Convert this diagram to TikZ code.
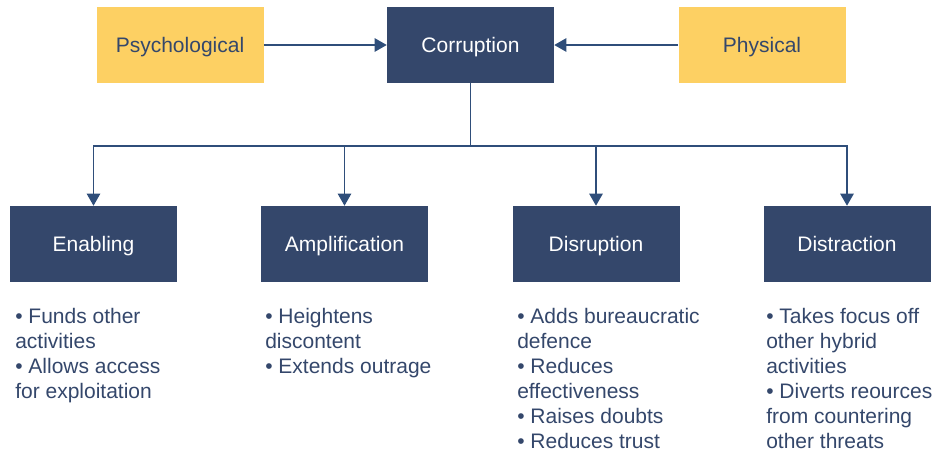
\documentclass[tikz,border=0pt]{standalone}
\usepackage{fontspec}
\setmainfont{Liberation Sans}
\usetikzlibrary{arrows.meta,positioning}
\definecolor{navybox}{RGB}{52,71,107}
\definecolor{goldbox}{RGB}{253,208,99}
\definecolor{linkline}{RGB}{47,78,122}

\begin{document}
\begin{tikzpicture}[x=0.75pt, y=-0.75pt,
    factor/.style={rectangle, fill=goldbox, text=navybox, minimum width=125.25pt, minimum height=57pt, text height=11pt, text depth=0pt, font=\fontsize{15.75}{18.3}\selectfont},
    effect/.style={rectangle, fill=navybox, text=white, minimum width=125.25pt, minimum height=57pt, text height=11pt, text depth=0pt, font=\fontsize{15.75}{18.3}\selectfont},
    notes/.style={anchor=north west, inner sep=0pt, align=left, text=navybox, font=\fontsize{15.75}{18.75}\selectfont},
    link/.style={draw=linkline, line width=1.1pt, -{Triangle[length=9pt,width=10pt]}},
]
\useasboundingbox (0,0) rectangle (934,457);

% Sources
\node[factor] (psych) at (180,45) {Psychological};
\node[effect] (corr) at (470.5,45) {Corruption};
\node[factor] (phys) at (762,45) {Physical};

\draw[link] (psych) -- (corr);
\draw[link] (phys) -- (corr);

% Effects
\node[effect] (enab) at (93.5,244) {Enabling};
\node[effect] (ampl) at (344.5,244) {Amplification};
\node[effect] (disr) at (596,244) {Disruption};
\node[effect] (distr) at (847,244) {Distraction};

\coordinate (bus) at (470.5,146);
\foreach \b in {enab,ampl,disr,distr}
    \draw[link] (corr.south) -- (bus) -| (\b.north);

% Notes
\node[notes] (enabnotes) at (15,308.5) {• Funds other\\activities\\• Allows access\\for exploitation};
\node[notes] (amplnotes) at (265,308.5) {• Heightens\\discontent\\• Extends outrage};
\node[notes] (disrnotes) at (517,308.5) {• Adds bureaucratic\\defence\\• Reduces\\effectiveness\\• Raises doubts\\• Reduces trust};
\node[notes] (distrnotes) at (766,308.5) {• Takes focus off\\other hybrid\\activities\\• Diverts reources\\from countering\\other threats};

\end{tikzpicture}
\end{document}
